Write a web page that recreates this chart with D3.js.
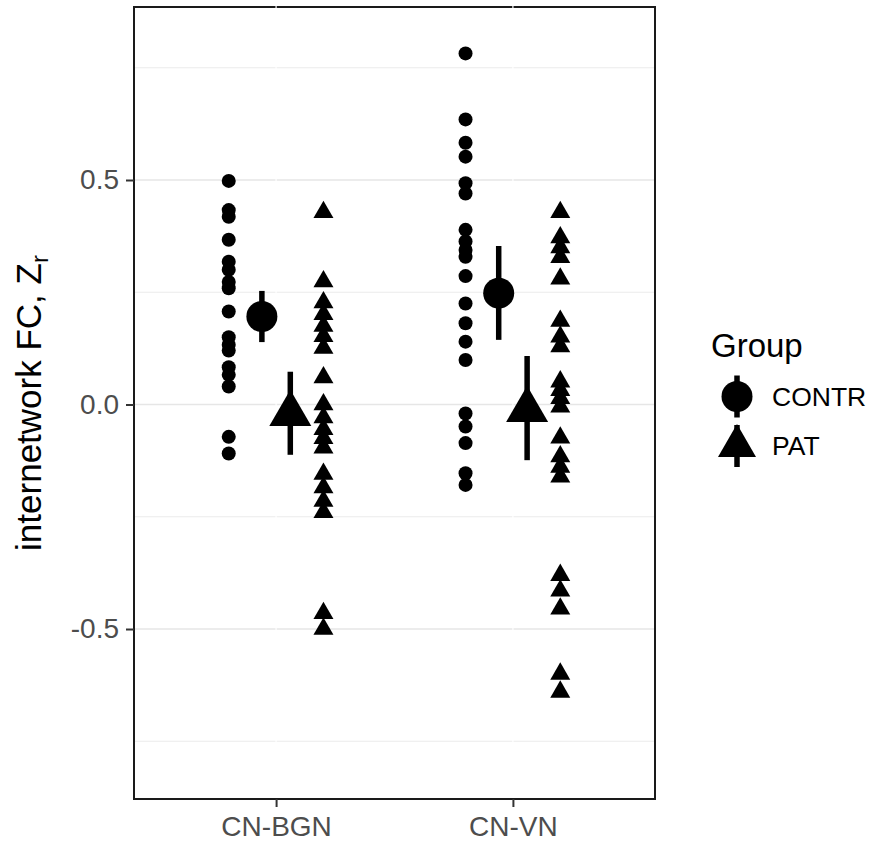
<!DOCTYPE html>
<html>
<head>
<meta charset="utf-8">
<script src="https://cdn.jsdelivr.net/npm/d3@7"></script>
<style>
  html, body { margin: 0; padding: 0; background: #ffffff; }
  svg { display: block; }
  text { font-family: "Liberation Sans", Arial, sans-serif; }
</style>
</head>
<body>
<svg id="chart" width="873" height="843"></svg>
<script>
// Individual Fisher-z internetwork FC values per network pair and group
const categories = ["CN-BGN", "CN-VN"];
const groups = ["CONTR", "PAT"];

const contrBGN = [0.498, 0.433, 0.418, 0.367, 0.318, 0.300, 0.273, 0.259, 0.207,
                  0.150, 0.133, 0.120, 0.083, 0.066, 0.040, -0.072, -0.109];
const patBGN = [0.428, 0.274, 0.227, 0.201, 0.175, 0.152, 0.126, 0.060, 0.000,
                -0.029, -0.055, -0.075, -0.096, -0.155, -0.185, -0.215, -0.240,
                -0.465, -0.500];
const contrVN = [0.782, 0.635, 0.583, 0.552, 0.493, 0.470, 0.389, 0.363, 0.344,
                 0.329, 0.286, 0.225, 0.181, 0.140, 0.099, -0.020, -0.049, -0.086,
                 -0.153, -0.179];
const patVN = [0.428, 0.372, 0.350, 0.328, 0.280, 0.186, 0.151, 0.129, 0.051,
               0.032, 0.014, -0.005, -0.074, -0.116, -0.139, -0.161, -0.380,
               -0.415, -0.455, -0.600, -0.640];

// Group means with interval bounds (one entry per category)
const meanContr = [0.196, 0.248];
const lowContr  = [0.139, 0.144];
const highContr = [0.253, 0.353];
const meanPat   = [-0.021, -0.012];
const lowPat    = [-0.112, -0.124];
const highPat   = [0.073, 0.108];

const yTicks = [-0.5, 0.0, 0.5];
const yMinor = [-0.75, -0.25, 0.25, 0.75];
const yTitle = "internetwork FC, Z";
const yTitleSub = "r";
const legendTitle = "Group";

// ---- layout ----
const panel = { left: 134, right: 655, top: 7, bottom: 799 };
const rawDodge = 0.2, meanDodge = 0.06;

const svg = d3.select("#chart");

const x = d3.scaleLinear().domain([0.4, 2.6]).range([panel.left, panel.right]);
const y = d3.scaleLinear().domain([-0.8786, 0.8853]).range([panel.bottom, panel.top]);

const circleRaw = d3.symbol().type(d3.symbolCircle).size(Math.PI * 7 * 7);
const triRaw = d3.symbol().type(d3.symbolTriangle).size(20 * 20 * Math.sqrt(3) / 4);
const circleBig = d3.symbol().type(d3.symbolCircle).size(Math.PI * 15.5 * 15.5);
const triBig = d3.symbol().type(d3.symbolTriangle).size(42 * 42 * Math.sqrt(3) / 4);
const triKey = d3.symbol().type(d3.symbolTriangle).size(38 * 38 * Math.sqrt(3) / 4);

// ---- grid ----
const grid = svg.append("g");
grid.selectAll("line.minor").data(yMinor).join("line")
  .attr("x1", panel.left).attr("x2", panel.right)
  .attr("y1", d => y(d)).attr("y2", d => y(d))
  .attr("stroke", "#ebebeb").attr("stroke-width", 1);
grid.selectAll("line.major").data(yTicks).join("line")
  .attr("x1", panel.left).attr("x2", panel.right)
  .attr("y1", d => y(d)).attr("y2", d => y(d))
  .attr("stroke", "#e6e6e6").attr("stroke-width", 1.5);
// white grid lines at the categories
grid.selectAll("line.cat").data(categories).join("line")
  .attr("x1", (d, i) => x(i + 1)).attr("x2", (d, i) => x(i + 1))
  .attr("y1", panel.top).attr("y2", panel.bottom)
  .attr("stroke", "#ffffff").attr("stroke-width", 1.2);

// ---- raw observations ----
const raw = [
  { cat: 1, grp: "CONTR", vals: contrBGN },
  { cat: 1, grp: "PAT", vals: patBGN },
  { cat: 2, grp: "CONTR", vals: contrVN },
  { cat: 2, grp: "PAT", vals: patVN }
];
const pts = svg.append("g");
raw.forEach(s => {
  const dx = s.grp === "CONTR" ? -rawDodge : rawDodge;
  pts.append("g").selectAll("path").data(s.vals).join("path")
    .attr("d", s.grp === "CONTR" ? circleRaw() : triRaw())
    .attr("transform", d => `translate(${x(s.cat + dx)},${y(d)})`)
    .attr("fill", "#000");
});

// ---- mean +/- interval ----
const summ = [];
categories.forEach((c, i) => {
  summ.push({ cat: i + 1, grp: "CONTR", m: meanContr[i], lo: lowContr[i], hi: highContr[i] });
  summ.push({ cat: i + 1, grp: "PAT", m: meanPat[i], lo: lowPat[i], hi: highPat[i] });
});
const sg = svg.append("g");
summ.forEach(s => {
  const cx = x(s.cat + (s.grp === "CONTR" ? -meanDodge : meanDodge));
  sg.append("line")
    .attr("x1", cx).attr("x2", cx).attr("y1", y(s.lo)).attr("y2", y(s.hi))
    .attr("stroke", "#000").attr("stroke-width", 5.5);
  sg.append("path")
    .attr("d", s.grp === "CONTR" ? circleBig() : triBig())
    .attr("transform", `translate(${cx},${y(s.m)})`)
    .attr("fill", "#000");
});

// ---- panel border ----
svg.append("rect")
  .attr("x", panel.left).attr("y", panel.top)
  .attr("width", panel.right - panel.left).attr("height", panel.bottom - panel.top)
  .attr("fill", "none").attr("stroke", "#1a1a1a").attr("stroke-width", 2);
// small breaks in the top edge where the category lines meet it
svg.append("g").selectAll("line").data(categories).join("line")
  .attr("x1", (d, i) => x(i + 1)).attr("x2", (d, i) => x(i + 1))
  .attr("y1", panel.top - 1.5).attr("y2", panel.top + 1.5)
  .attr("stroke", "#ffffff").attr("stroke-width", 1.2);

// ---- axes ----
const yAxis = d3.axisLeft(y).tickValues(yTicks).tickSize(8).tickPadding(7)
  .tickFormat(d => d3.format(".1f")(d).replace("\u2212", "-"));
const ya = svg.append("g").attr("transform", `translate(${panel.left},0)`).call(yAxis);
ya.select(".domain").remove();
ya.selectAll(".tick line").attr("stroke", "#333333").attr("stroke-width", 2);
ya.selectAll(".tick text").attr("fill", "#4d4d4d").style("font-size", "28px");

const xAxis = d3.axisBottom(x).tickValues([1, 2]).tickSize(8).tickPadding(9)
  .tickFormat(d => categories[d - 1]);
const xa = svg.append("g").attr("transform", `translate(0,${panel.bottom})`).call(xAxis);
xa.select(".domain").remove();
xa.selectAll(".tick line").attr("stroke", "#333333").attr("stroke-width", 2);
xa.selectAll(".tick text").attr("fill", "#4d4d4d").style("font-size", "28px");

// y-axis title with subscript
const yt = svg.append("text")
  .attr("transform", `translate(41,${(panel.top + panel.bottom) / 2}) rotate(-90)`)
  .attr("text-anchor", "middle").attr("fill", "#000").style("font-size", "35px");
yt.append("tspan").text(yTitle);
yt.append("tspan").attr("dy", 7).style("font-size", "24px").text(yTitleSub);

// ---- legend ----
const lg = svg.append("g").attr("transform", "translate(711,0)");
lg.append("text").attr("x", 0).attr("y", 357).style("font-size", "33px").attr("fill", "#000")
  .text(legendTitle);
const keyY = [396.5, 446];
groups.forEach((g, i) => {
  const cx = 26;
  const cy = keyY[i];
  lg.append("line").attr("x1", cx).attr("x2", cx)
    .attr("y1", cy - 21).attr("y2", cy + 21)
    .attr("stroke", "#000").attr("stroke-width", 5.5);
  lg.append("path")
    .attr("d", g === "CONTR" ? circleBig() : triKey())
    .attr("transform", `translate(${cx},${cy})`).attr("fill", "#000");
  lg.append("text").attr("x", 61).attr("y", cy).attr("dy", "0.35em")
    .style("font-size", "26.5px").attr("fill", "#000").text(g);
});
</script>
</body>
</html>
